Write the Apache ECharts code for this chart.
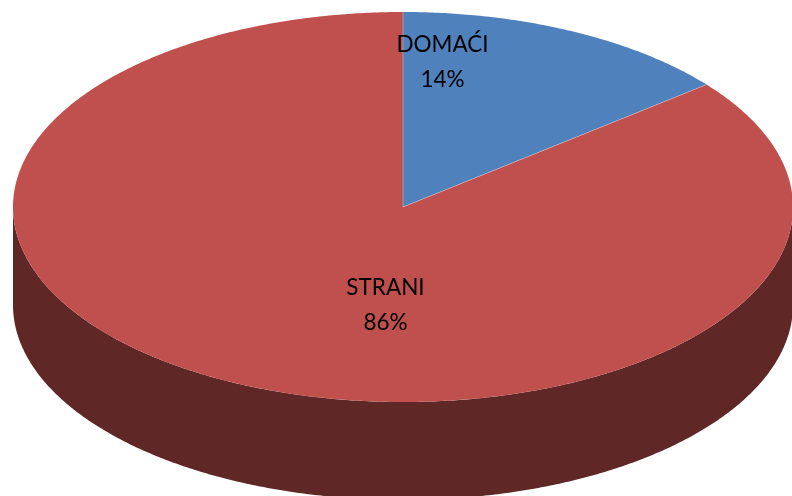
<!DOCTYPE html>
<html>
<head>
<meta charset="utf-8">
<style>
  html, body { margin: 0; padding: 0; background: #fff; }
  #chart { width: 792px; height: 496px; }
</style>
<script src="https://cdn.jsdelivr.net/npm/echarts@6/dist/echarts.min.js"></script>
</head>
<body>
<div id="chart"></div>
<script>
const categories = ['DOMAĆI', 'STRANI'];
const shares = [14.2, 85.8];
const topColors = ['#4f81bd', '#c0504d'];
const wallColors = ['#2a4562', '#5f2827'];

// geometry of the tilted pie, in pixels
const cx = 403, cy = 207, rx = 390, ry = 195, depth = 98;
// label centres
const labelPos = [[442.5, 62], [385.5, 305.5]];

const total = shares.reduce((a, b) => a + b, 0);
const startAngle = i => shares.slice(0, i).reduce((a, b) => a + b, 0) / total * Math.PI * 2;
const onRim = (a, dy = 0) => [cx + rx * Math.sin(a), cy - ry * Math.cos(a) + dy];

function arcPoints(a0, a1, dy = 0) {
    const n = Math.max(2, Math.ceil((a1 - a0) * 120));
    const pts = [];
    for (let k = 0; k <= n; k++) pts.push(onRim(a0 + (a1 - a0) * k / n, dy));
    return pts;
}

function renderSlice(params, api) {
    const i = params.dataIndex;
    const a0 = startAngle(i);
    const a1 = a0 + api.value(0) / total * Math.PI * 2;
    const children = [];

    // outer wall, only the part that faces the viewer
    const w0 = Math.max(a0, Math.PI / 2), w1 = Math.min(a1, Math.PI * 1.5);
    if (w1 > w0) {
        children.push({
            type: 'polygon',
            shape: { points: arcPoints(w0, w1).concat(arcPoints(w0, w1, depth).reverse()) },
            style: { fill: wallColors[i] }
        });
    }
    children.push({
        type: 'polygon', z2: 2,
        shape: { points: [[cx, cy]].concat(arcPoints(a0, a1)) },
        style: { fill: topColors[i] }
    });
    const edge = onRim(a0);
    children.push({
        type: 'line', z2: 3,
        shape: { x1: cx, y1: cy, x2: edge[0], y2: edge[1] },
        style: { stroke: 'rgba(255,255,255,0.3)', lineWidth: 1 }
    });
    children.push({
        type: 'text', z2: 4,
        x: labelPos[i][0], y: labelPos[i][1],
        style: {
            text: categories[i] + '\n' + Math.round(api.value(0)) + '%',
            fill: '#000', font: '22.5px Lato', lineHeight: 35,
            align: 'center', verticalAlign: 'middle'
        }
    });
    return { type: 'group', children };
}

const myChart = echarts.init(document.getElementById('chart'), null, { renderer: 'canvas' });
myChart.setOption({
    backgroundColor: '#fff',
    animation: false,
    series: [{
        type: 'custom',
        coordinateSystem: 'none',
        renderItem: renderSlice,
        data: shares.map(v => [v])
    }]
});
</script>
</body>
</html>
